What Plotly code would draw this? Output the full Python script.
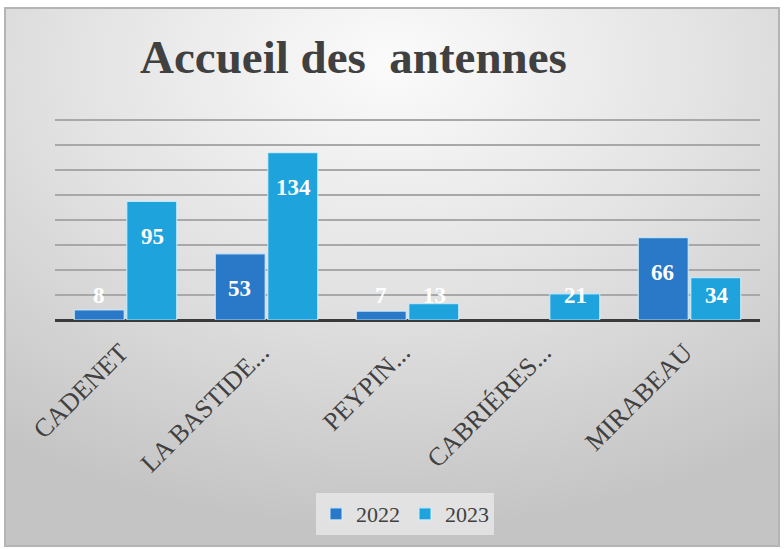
import plotly.graph_objects as go

categories = ["CADENET", "LA BASTIDE...", "PEYPIN...", "CABRIÉRES...", "MIRABEAU"]
values_2022 = [8, 53, 7, None, 66]
values_2023 = [95, 134, 13, 21, 34]
series_names = ["2022", "2023"]
colors = ["#2a78c8", "#1fa3dc"]

W, H = 784, 549
L, R, T, B = 55, 24, 114, 229
pw, ph = W - L - R, H - T - B

fig = go.Figure()
for name, vals, col in zip(series_names, [values_2022, values_2023], colors):
    fig.add_trace(go.Bar(
        x=categories, y=vals, name=name,
        marker=dict(color=col, line=dict(color="rgba(210,240,255,0.8)", width=1.2)),
        hoverinfo="x+y",
    ))

# value labels (white, inside end, clamped near baseline like the source)
annotations = []
for vals, shift in [(values_2022, -27), (values_2023, 27)]:
    for c, v in zip(categories, vals):
        if v is None:
            continue
        annotations.append(dict(
            x=c, y=max(v - 28, 20), xref="x", yref="y", xshift=shift,
            text=str(v), showarrow=False, yanchor="middle",
            font=dict(family="Liberation Serif", size=23, color="white", weight="bold"),
        ))

# background gradient via inline SVG
svg = ("data:image/svg+xml;utf8,"
       "<svg xmlns='http://www.w3.org/2000/svg' width='774' height='538'>"
       "<defs><radialGradient id='g' cx='0.5' cy='0.12' r='0.85' fx='0.5' fy='0.1'>"
       "<stop offset='0' stop-color='%23fbfbfb'/>"
       "<stop offset='0.5' stop-color='%23e2e2e2'/>"
       "<stop offset='1' stop-color='%23c4c4c4'/>"
       "</radialGradient></defs>"
       "<rect width='774' height='538' fill='url(%23g)'/></svg>")
bx0, by0, bx1, by1 = 5, 8, 779, 546

def px2x(px):
    return (px - L) / pw

def py2y(py):
    return (H - B - py) / ph

fig.add_layout_image(dict(
    source=svg, xref="paper", yref="paper",
    x=px2x(bx0), y=py2y(by0), sizex=(bx1 - bx0) / pw, sizey=(by1 - by0) / ph,
    xanchor="left", yanchor="top", sizing="stretch", layer="below",
))

fig.add_shape(type="rect", xref="paper", yref="paper",
              x0=px2x(bx0), x1=px2x(bx1), y0=py2y(by1), y1=py2y(by0),
              line=dict(color="#b4b4b4", width=2), layer="below")

fig.update_layout(
    width=W, height=H,
    margin=dict(l=L, r=R, t=T, b=B, autoexpand=False),
    paper_bgcolor="white", plot_bgcolor="rgba(0,0,0,0)",
    barmode="group", bargap=0.255, bargroupgap=0.05,
    title=dict(text="Accueil des  antennes", xref="container", yref="container",
               x=140 / W, xanchor="left", y=1 - 57 / H, yanchor="middle",
               font=dict(family="Liberation Serif", size=47, color="#404040", weight="bold")),
    xaxis=dict(tickangle=-45, showgrid=False, showline=False, ticks="",
               tickfont=dict(family="Liberation Serif", size=26, color="#404040"),
               ticklabelshift=-5, ticklabelstandoff=11, automargin=False),
    yaxis=dict(range=[0, 165], dtick=20, showticklabels=False, showgrid=True,
               gridcolor="#a8a8a8", gridwidth=1.5, zeroline=True,
               zerolinecolor="#3a3a3a", zerolinewidth=3, ticks="", automargin=False),
    legend=dict(orientation="h", x=px2x(405), xanchor="center", y=py2y(514), yanchor="middle",
                bgcolor="rgba(232,232,232,0.8)",
                font=dict(family="Liberation Serif", size=22, color="#404040"),
                itemwidth=30),
    annotations=annotations,
    showlegend=True,
)

fig.write_html("out.html", config={"displayModeBar": False},
               post_script="document.body.style.margin='0';document.body.style.overflow='hidden';")
